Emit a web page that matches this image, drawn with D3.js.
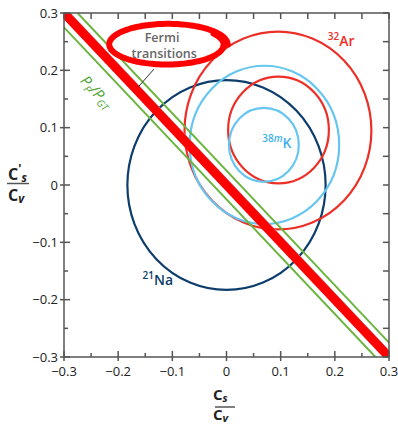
<!DOCTYPE html>
<html><head><meta charset="utf-8">
<script src="https://cdn.jsdelivr.net/npm/d3@7"></script>
<style>
body{margin:0;background:#fff;}
text{font-family:"Open Sans","Noto Sans",sans-serif;}
</style></head>
<body><svg id="c" width="398" height="427"></svg>
<script>
// ---- data ----
const majorTicks = [-0.3,-0.2,-0.1,0,0.1,0.2,0.3];
const minorTicks = [-0.25,-0.15,-0.05,0.05,0.15,0.25];
const tickLabels = ["\u22120.3","\u22120.2","\u22120.1","0","0.1","0.2","0.3"];
const circleNames = ["21Na","32Ar outer","32Ar inner","38mK outer","38mK inner"];
const circleCx = [0, 0.095, 0.096, 0.07, 0.069];
const circleCy = [0, 0.095, 0.096, 0.07, 0.07];
const circleR  = [0.183, 0.1725, 0.093, 0.138, 0.0645];
const circleColor = ["#0c3d6b","#ec3027","#ec3027","#66c6f0","#66c6f0"];
const fermiLine = [[-0.3,0.3],[0.3,-0.3]];
const greenOffsets = [0.025,-0.025];

const x = d3.scaleLinear().domain([-0.3,0.3]).range([64,389]);
const y = d3.scaleLinear().domain([-0.3,0.3]).range([357,13]);
const svg = d3.select("#c");
const frame="#555";

svg.append("defs").append("clipPath").attr("id","clip")
  .append("rect").attr("x",x(-0.3)).attr("y",y(0.3)).attr("width",x(0.3)-x(-0.3)).attr("height",y(-0.3)-y(0.3));

// circles
const gC = svg.append("g");
circleR.forEach((r,i)=>{
  gC.append("ellipse").attr("cx",x(circleCx[i])).attr("cy",y(circleCy[i]))
    .attr("rx",x(r)-x(0)).attr("ry",y(0)-y(r))
    .attr("fill","none").attr("stroke",circleColor[i]).attr("stroke-width",2.2);
});

// lines
const gL = svg.append("g").attr("clip-path","url(#clip)");
const line = d3.line().x(d=>x(d[0])).y(d=>y(d[1]));
greenOffsets.forEach(o=>{
  gL.append("path").attr("d",line([[-0.4,0.4+o],[0.4,-0.4+o]]))
    .attr("stroke","#6bb43f").attr("stroke-width",2).attr("fill","none");
});
gL.append("path").attr("d",line([[-0.4,0.4],[0.4,-0.4]])).attr("transform","translate(1.2,0.6)")
  .attr("stroke","#aaa").attr("stroke-width",9).attr("fill","none");
gL.append("path").attr("d",line(fermiLine.map(d=>[d[0]*1.03,d[1]*1.03])))
  .attr("stroke","#ff0000").attr("stroke-width",9).attr("fill","none");

// frame & ticks
const gA = svg.append("g").attr("stroke",frame).attr("stroke-width",1.5);
gA.append("rect").attr("x",x(-0.3)).attr("y",y(0.3)).attr("width",x(0.3)-x(-0.3)).attr("height",y(-0.3)-y(0.3)).attr("fill","none");
majorTicks.forEach(t=>{
  gA.append("line").attr("x1",x(-0.3)-4).attr("x2",x(-0.3)+6).attr("y1",y(t)).attr("y2",y(t));
  gA.append("line").attr("y1",y(-0.3)+4).attr("y2",y(-0.3)-6).attr("x1",x(t)).attr("x2",x(t));
});
minorTicks.forEach(t=>{
  gA.append("line").attr("x1",x(-0.3)).attr("x2",x(-0.3)+4).attr("y1",y(t)).attr("y2",y(t));
  gA.append("line").attr("y1",y(-0.3)).attr("y2",y(-0.3)-4).attr("x1",x(t)).attr("x2",x(t));
});
majorTicks.concat(minorTicks).forEach(t=>{
  gA.append("line").attr("x1",x(0.3)).attr("x2",x(0.3)-6).attr("y1",y(t)).attr("y2",y(t));
  gA.append("line").attr("y1",y(0.3)).attr("y2",y(0.3)+6).attr("x1",x(t)).attr("x2",x(t));
});
const gT = svg.append("g").attr("font-size",13).attr("fill","#222");
majorTicks.forEach((t,i)=>{
  gT.append("text").attr("x",x(-0.3)-6).attr("y",y(t)).attr("dy","0.35em").attr("text-anchor","end").text(tickLabels[i]);
  gT.append("text").attr("x",x(t)).attr("y",y(-0.3)+19).attr("text-anchor","middle").text(tickLabels[i]);
});

// axis labels (fractions)
function frac(x0, base1, bar, base2, barX0, barX1, fs, prime){
  const g = svg.append("g").attr("font-weight","bold").attr("fill","#222");
  const t1 = g.append("text").attr("x",x0).attr("y",base1).attr("font-size",fs);
  t1.append("tspan").text("C");
  if(prime){
    t1.append("tspan").attr("font-size",fs*0.75).attr("dy",-fs*0.42).text("'");
    t1.append("tspan").attr("font-size",fs*0.72).attr("font-style","italic").attr("dy",fs*0.42+2).text("s");
  } else {
    t1.append("tspan").attr("font-size",fs*0.72).attr("font-style","italic").attr("dy",2).text("s");
  }
  g.append("line").attr("x1",barX0).attr("x2",barX1).attr("y1",bar).attr("y2",bar).attr("stroke","#555").attr("stroke-width",1.5);
  const t2 = g.append("text").attr("x",x0).attr("y",base2).attr("font-size",fs);
  t2.append("tspan").text("C");
  t2.append("tspan").attr("font-size",fs*0.72).attr("font-style","italic").attr("dy",2).text("v");
}
frac(8, 180, 183.5, 200.5, 7, 29, 16, true);
frac(213, 399.5, 407, 419.5, 215, 235, 15, false);

// circle labels
function isoLabel(px,py,sup,supItal,main,color){
  const t = svg.append("text").attr("x",px).attr("y",py).attr("fill",color).attr("font-weight","600").attr("font-size",14);
  t.append("tspan").attr("font-size",10).attr("dy",-6).text(sup);
  if(supItal) t.append("tspan").attr("font-size",10).attr("font-style","italic").text(supItal);
  t.append("tspan").attr("dy",6).text(main);
}
isoLabel(x(0.187), y(0.243), "32", "", "Ar", "#ec3027");
isoLabel(x(0.066), y(0.064), "38", "m", "K", "#3fb2ea");
isoLabel(x(-0.155), y(-0.175), "21", "", "Na", "#0c3d6b");

// PF/PGT
{
  const ang = Math.atan2(y(-0.1)-y(0), x(0.1)-x(0))*180/Math.PI;
  const px = x(-0.247), py = y(0.156);
  const t = svg.append("text").attr("transform",`translate(${px},${py}) rotate(${ang})`)
    .attr("text-anchor","middle").attr("fill","#4fa336").attr("font-style","italic").attr("font-size",15);
  t.append("tspan").text("P");
  t.append("tspan").attr("font-size",10).attr("dy",3).text("F");
  t.append("tspan").attr("dy",-3).text("/P");
  t.append("tspan").attr("font-size",10).attr("dy",3).text("GT");
}

// Fermi callout
{
  const ecx = x(-0.109), ecy = y(0.245), erx = x(0.103)-x(0), ery = y(0)-y(0.034);
  svg.append("line").attr("x1",x(-0.134)).attr("y1",y(0.202)).attr("x2",x(-0.163)).attr("y2",y(0.171))
    .attr("stroke","#333").attr("stroke-width",1);
  const pts=[];
  const a0=-0.6, a1=a0+2*Math.PI+0.6;
  for(let a=a0;a<=a1;a+=0.04){
    const k = 1+0.08*(a-a0)/(a1-a0);
    pts.push([ecx+erx*k*Math.cos(a), ecy+ery*k*Math.sin(a)]);
  }
  svg.append("path").attr("d",d3.line()(pts)).attr("fill","none").attr("stroke","#ff0000").attr("stroke-width",6).attr("stroke-linecap","round");
  const t = svg.append("g").attr("fill","#666").attr("font-weight","600").attr("font-size",12.5).attr("text-anchor","middle");
  t.append("text").attr("x",x(-0.119)).attr("y",y(0.249)).text("Fermi");
  t.append("text").attr("x",x(-0.115)).attr("y",y(0.222)).text("transitions");
}
</script></body></html>
